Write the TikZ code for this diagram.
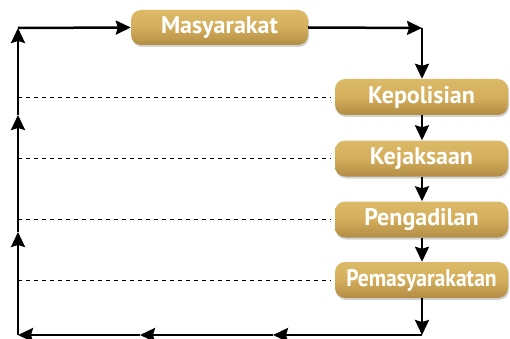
\documentclass[tikz,border=0pt]{standalone}
\usepackage{fontspec}
\newfontfamily\boxfont{PT Sans}
\usetikzlibrary{arrows.meta,shadows}
\definecolor{goldtop}{RGB}{220,186,104}
\definecolor{goldmid}{RGB}{212,174,92}
\definecolor{goldbot}{RGB}{178,140,68}
\tikzset{
  stagebox/.style={rounded corners=10pt, top color=goldtop, bottom color=goldbot,
    middle color=goldmid,
    minimum width=173pt, minimum height=36pt, inner sep=0pt,
    text=white, font=\boxfont\bfseries\fontsize{24}{24}\selectfont,
    drop shadow={shadow xshift=1pt, shadow yshift=-2pt, opacity=0.35}},
  flow/.style={line width=2.5pt, -{Stealth[length=15pt,width=14pt,inset=2pt]}},
  guide/.style={line width=0.8pt, dash pattern=on 4pt off 4pt}
}
\begin{document}
\begin{tikzpicture}[x=1pt,y=-1pt]
\useasboundingbox (0,0) rectangle (510,339);
% boxes
\node[stagebox, minimum width=177pt, minimum height=35pt] (mas) at (219.5,27.5) {Masyarakat};
\node[stagebox] (pol) at (421.5,97) {Kepolisian};
\node[stagebox] (jak) at (421.5,158.5) {Kejaksaan};
\node[stagebox] (pen) at (421.5,219.5) {Pengadilan};
\node[stagebox] (pem) at (421.5,280) {\scalebox{0.9}[1]{Pemasyarakatan}};
% corners and mid-arrow points
\coordinate (tl) at (18,28);
\coordinate (tr) at (422,28);
\coordinate (br) at (422,335);
\coordinate (bl) at (18,335);
\coordinate (b1) at (273,335);
\coordinate (b2) at (140,335);
\coordinate (l1) at (18,232);
\coordinate (l2) at (18,115);
% right side
\draw[flow] (mas.east) -- (tr);
\draw[flow] (tr) -- (pol.north -| tr);
\draw[flow] (pol.south -| tr) -- (jak.north -| tr);
\draw[flow] (jak.south -| tr) -- (pen.north -| tr);
\draw[flow] (pen.south -| tr) -- (pem.north -| tr);
\draw[flow] (pem.south -| tr) -- (br);
% bottom
\draw[flow] (br) -- (b1);
\draw[flow] (b1) -- (b2);
\draw[flow] (b2) -- (bl);
% left
\draw[flow] (bl) -- (l1);
\draw[flow] (l1) -- (l2);
\draw[flow] (l2) -- (tl);
\draw[flow] (tl) -- (mas.west);
% dashed guides
\foreach \n in {pol,jak,pen,pem}{
  \draw[guide] (tl |- \n.west) -- ([xshift=-4pt]\n.west);
}
\end{tikzpicture}
\end{document}
